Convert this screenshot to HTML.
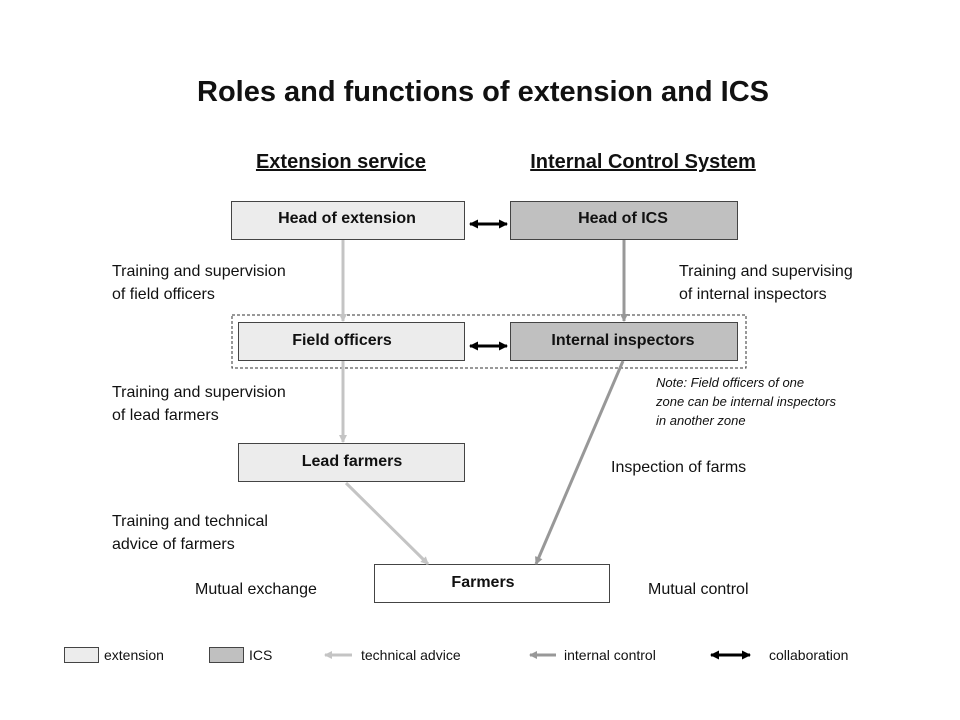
<!DOCTYPE html>
<html><head><meta charset="utf-8"><style>
body{margin:0;background:#fff}
svg{display:block;font-family:"Liberation Sans",Arial,sans-serif}
</style></head><body>
<svg width="960" height="720" viewBox="0 0 960 720">
<defs>
<marker id="al" markerWidth="8" markerHeight="8" refX="7" refY="4" orient="auto" markerUnits="userSpaceOnUse"><path d="M0,0 L8,4 L0,8 z" fill="#c4c4c4"/></marker>
<marker id="ad" markerWidth="8" markerHeight="8" refX="7" refY="4" orient="auto" markerUnits="userSpaceOnUse"><path d="M0,0 L8,4 L0,8 z" fill="#989898"/></marker>
<marker id="ab" markerWidth="9" markerHeight="9" refX="8" refY="4.5" orient="auto-start-reverse" markerUnits="userSpaceOnUse"><path d="M0,0 L9,4.5 L0,9 z" fill="#000"/></marker>
</defs>
<text x="483" y="101" font-size="29" font-weight="bold" text-anchor="middle" fill="#111">Roles and functions of extension and ICS</text>
<text x="341" y="168" font-size="20" font-weight="bold" text-anchor="middle" text-decoration="underline" fill="#111">Extension service</text>
<text x="643" y="168" font-size="20" font-weight="bold" text-anchor="middle" text-decoration="underline" fill="#111">Internal Control System</text>
<rect x="232" y="315" width="514" height="53" fill="none" stroke="#333" stroke-dasharray="3,2"/>
<g stroke="#444" stroke-width="1">
<rect x="231.5" y="201.5" width="233" height="38" fill="#ececec"/>
<rect x="510.5" y="201.5" width="227" height="38" fill="#c0c0c0"/>
<rect x="238.5" y="322.5" width="226" height="38" fill="#ececec"/>
<rect x="510.5" y="322.5" width="227" height="38" fill="#c0c0c0"/>
<rect x="238.5" y="443.5" width="226" height="38" fill="#ececec"/>
<rect x="374.5" y="564.5" width="235" height="38" fill="#fff"/>
</g>
<g font-size="16" font-weight="bold" text-anchor="middle" fill="#111">
<text x="347" y="223">Head of extension</text>
<text x="623" y="223">Head of ICS</text>
<text x="342" y="345">Field officers</text>
<text x="623" y="345">Internal inspectors</text>
<text x="352" y="466">Lead farmers</text>
<text x="483" y="587">Farmers</text>
</g>
<g stroke-width="3" fill="none">
<line x1="343" y1="240" x2="343" y2="321" stroke="#c4c4c4" marker-end="url(#al)"/>
<line x1="343" y1="361" x2="343" y2="442" stroke="#c4c4c4" marker-end="url(#al)"/>
<line x1="346" y1="483" x2="428" y2="564" stroke="#c4c4c4" marker-end="url(#al)"/>
<line x1="624" y1="240" x2="624" y2="321" stroke="#989898" marker-end="url(#ad)"/>
<line x1="623" y1="361" x2="536" y2="564" stroke="#989898" marker-end="url(#ad)"/>
<line x1="470" y1="224" x2="507" y2="224" stroke="#000" marker-start="url(#ab)" marker-end="url(#ab)"/>
<line x1="470" y1="346" x2="507" y2="346" stroke="#000" marker-start="url(#ab)" marker-end="url(#ab)"/>
</g>
<g font-size="16" fill="#111">
<text x="112" y="276">Training and supervision</text>
<text x="112" y="299">of field officers</text>
<text x="679" y="276">Training and supervising</text>
<text x="679" y="299">of internal inspectors</text>
<text x="112" y="397">Training and supervision</text>
<text x="112" y="420">of lead farmers</text>
<text x="611" y="472">Inspection of farms</text>
<text x="112" y="526">Training and technical</text>
<text x="112" y="549">advice of farmers</text>
<text x="195" y="594">Mutual exchange</text>
<text x="648" y="594">Mutual control</text>
</g>
<g font-size="13" font-style="italic" fill="#111">
<text x="656" y="387">Note: Field officers of one</text>
<text x="656" y="406">zone can be internal inspectors</text>
<text x="656" y="425">in another zone</text>
</g>
<rect x="64.5" y="647.5" width="34" height="15" fill="#ececec" stroke="#444"/>
<rect x="209.5" y="647.5" width="34" height="15" fill="#c0c0c0" stroke="#444"/>
<g stroke-width="3">
<line x1="352" y1="655" x2="325" y2="655" stroke="#c4c4c4" marker-end="url(#al)"/>
<line x1="556" y1="655" x2="530" y2="655" stroke="#989898" marker-end="url(#ad)"/>
<line x1="711" y1="655" x2="750" y2="655" stroke="#000" marker-start="url(#ab)" marker-end="url(#ab)"/>
</g>
<g font-size="14" fill="#111">
<text x="104" y="660">extension</text>
<text x="249" y="660">ICS</text>
<text x="361" y="660">technical advice</text>
<text x="564" y="660">internal control</text>
<text x="769" y="660">collaboration</text>
</g>
</svg>
</body></html>
